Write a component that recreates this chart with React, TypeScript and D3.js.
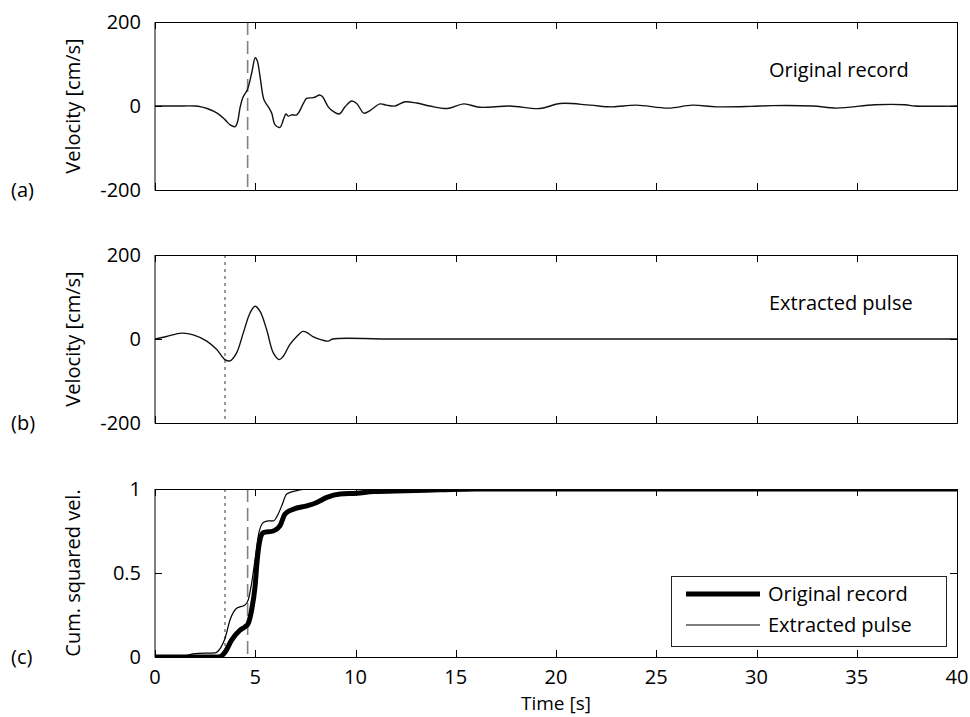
import React from 'react';
import * as d3 from 'd3';

// ---------- data ----------
const timeTicks = [0, 5, 10, 15, 20, 25, 30, 35, 40];
const velocityTicks = [-200, 0, 200];
const cumTicks = [0, 0.5, 1];

// Original record velocity [t (s), v (cm/s)]
const originalRecord: [number, number][] = [
  [0, 0], [1, 0], [2, 0], [2.3, -2], [2.6, -6], [3.1, -17], [3.5, -33], [3.75, -45], [4.0, -49],
  [4.12, -37], [4.25, -2], [4.4, 22], [4.6, 38], [4.82, 78], [5.0, 115], [5.1, 108], [5.24, 70],
  [5.44, 14], [5.65, -2], [5.82, -17], [5.99, -45], [6.23, -51], [6.4, -33], [6.53, -19], [6.65, -24],
  [6.82, -21], [7.07, -21], [7.4, 6], [7.56, 18], [7.9, 20], [8.23, 26], [8.36, 22], [8.64, -2],
  [8.89, -13], [9.19, -19], [9.48, -2], [9.81, 12], [10.06, 6], [10.42, -17], [10.72, -11], [11.22, 5],
  [11.55, 2], [11.97, 0], [12.47, 10], [13.05, 7], [13.7, 0], [14.6, -6], [15.4, 5], [16.2, -3],
  [17.7, 0], [19.2, -6], [20.2, 6], [21.7, 2], [22.8, -2], [24.0, 2], [25.6, -5], [26.8, 2],
  [28.0, -2], [29.7, -1], [30.8, 1], [32.8, 0], [34.0, -5], [35.9, 3], [37.4, 3], [37.9, 0], [40, 0],
];

// Extracted pulse velocity [t (s), v (cm/s)]
const extractedPulse: [number, number][] = [
  [0, 0], [0.58, 6], [1.33, 14], [1.91, 10], [2.58, -5], [3.08, -25], [3.49, -49], [3.74, -52],
  [4.07, -33], [4.4, 14], [4.74, 62], [4.99, 78], [5.24, 66], [5.57, 22], [5.9, -33], [6.2, -49],
  [6.4, -41], [6.73, -13], [7.07, 6], [7.37, 18], [7.56, 16], [7.9, 5], [8.31, -2], [8.64, -5],
  [8.86, 0], [12, 0], [40, 0],
];

// Cumulative squared velocity, original record
const cumOriginal: [number, number][] = [
  [0, 0], [3.2, 0], [3.5, 0.03], [3.82, 0.1], [4.24, 0.16], [4.5, 0.18], [4.65, 0.2], [4.82, 0.28],
  [4.99, 0.42], [5.1, 0.58], [5.24, 0.7], [5.4, 0.74], [5.9, 0.75], [6.23, 0.78], [6.48, 0.85],
  [6.9, 0.88], [7.57, 0.9], [8.07, 0.92], [8.57, 0.95], [9.23, 0.97], [10.06, 0.975], [10.9, 0.985],
  [12.5, 0.99], [14.2, 0.995], [16, 1], [40, 1],
];

// Cumulative squared velocity, extracted pulse
const cumPulse: [number, number][] = [
  [0, 0], [1.2, 0], [1.6, 0.01], [2.0, 0.02], [3.0, 0.025], [3.3, 0.06], [3.49, 0.11], [3.74, 0.22],
  [4.07, 0.29], [4.49, 0.31], [4.65, 0.34], [4.82, 0.44], [4.99, 0.58], [5.15, 0.72], [5.4, 0.8],
  [5.65, 0.81], [5.9, 0.81], [6.1, 0.84], [6.32, 0.9], [6.57, 0.97], [7.07, 0.99], [7.57, 1.0], [40, 1],
];

const dashedTime = 4.62; // dashed marker (original record)
const dottedTime = 3.49; // dotted marker (extracted pulse)

// ---------- layout ----------
const W = 970;
const H = 717;
const L = 155;
const R = 957;
const FONT = '"Open Sans", sans-serif';
const FS = 20;

const panels = [
  { top: 22, bottom: 190, letter: '(a)', ylabel: 'Velocity [cm/s]', domain: [-200, 200], ticks: velocityTicks },
  { top: 255, bottom: 423, letter: '(b)', ylabel: 'Velocity [cm/s]', domain: [-200, 200], ticks: velocityTicks },
  { top: 489, bottom: 657, letter: '(c)', ylabel: 'Cum. squared vel.', domain: [0, 1], ticks: cumTicks },
];

const x = d3.scaleLinear().domain([0, 40]).range([L, R]);

function Panel({ p, idx, children }: any) {
  const y = d3.scaleLinear().domain(p.domain).range([p.bottom, p.top]);
  const tl = 7;
  return (
    <g>
      <defs>
        <clipPath id={`clip${idx}`}>
          <rect x={L} y={p.top} width={R - L} height={p.bottom - p.top} />
        </clipPath>
      </defs>
      <g clipPath={`url(#clip${idx})`}>{children(y)}</g>
      {/* box */}
      <line x1={L} x2={L} y1={p.top} y2={p.bottom + 0.5} stroke="#000" strokeWidth={1} />
      <line x1={L} x2={R + 0.5} y1={p.top + 0.5} y2={p.top + 0.5} stroke="#000" strokeWidth={1} />
      <line x1={L} x2={R + 0.5} y1={p.bottom + 0.5} y2={p.bottom + 0.5} stroke="#000" strokeWidth={1} />
      <line x1={R + 0.5} x2={R + 0.5} y1={p.top} y2={p.bottom + 0.5} stroke="#000" strokeWidth={1} />
      {/* x ticks */}
      {timeTicks.map((t) => (
        <g key={'xt' + t}>
          <line x1={Math.round(x(t)) + 0.5} x2={Math.round(x(t)) + 0.5} y1={p.top} y2={p.top + tl} stroke="#000" />
          <line x1={Math.round(x(t)) + 0.5} x2={Math.round(x(t)) + 0.5} y1={p.bottom + 0.5} y2={p.bottom - tl} stroke="#000" />
        </g>
      ))}
      {/* y ticks */}
      {p.ticks.map((v: number) => (
        <g key={'yt' + v}>
          <line x1={L} x2={L + tl} y1={Math.round(y(v)) + 0.5} y2={Math.round(y(v)) + 0.5} stroke="#000" />
          <line x1={R} x2={R - tl} y1={Math.round(y(v)) + 0.5} y2={Math.round(y(v)) + 0.5} stroke="#000" />
          <text x={141} y={y(v) + 7} textAnchor="end" fontSize={FS} fontFamily={FONT} fill="#000">
            {String(v)}
          </text>
        </g>
      ))}
      <text x={11} y={p.bottom + 7} fontSize={FS} fontFamily={FONT} fill="#000">{p.letter}</text>
      <text
        transform={`translate(80,${(p.top + p.bottom) / 2}) rotate(-90)`}
        textAnchor="middle"
        fontSize={FS}
        fontFamily={FONT}
        fill="#000"
      >
        {p.ylabel}
      </text>
    </g>
  );
}

export default function App() {
  const vline = (t: number, dash: string, key: string, p: any) => (
    <line key={key} x1={x(t)} x2={x(t)} y1={p.top} y2={p.bottom} stroke="#808080" strokeWidth={1.6} strokeDasharray={dash} />
  );
  const wave = (y: any) =>
    d3.line<[number, number]>().x((d) => x(d[0])).y((d) => y(d[1])).curve(d3.curveCatmullRom.alpha(0.5));
  const mono = (y: any) =>
    d3.line<[number, number]>().x((d) => x(d[0])).y((d) => y(d[1])).curve(d3.curveMonotoneX);

  return (
    <svg width={W} height={H} style={{ position: 'absolute', left: 0, top: 0, background: '#fff' }}>
      <rect width={W} height={H} fill="#fff" />
      <Panel p={panels[0]} idx={0}>
        {(y: any) => (
          <g>
            {vline(dashedTime, '13,6', 'd0', panels[0])}
            <path d={wave(y)(originalRecord) || ''} fill="none" stroke="#111" strokeWidth={1.4} />
          </g>
        )}
      </Panel>
      <Panel p={panels[1]} idx={1}>
        {(y: any) => (
          <g>
            {vline(dottedTime, '3,4', 'd1', panels[1])}
            <path d={wave(y)(extractedPulse) || ''} fill="none" stroke="#111" strokeWidth={1.4} />
          </g>
        )}
      </Panel>
      <Panel p={panels[2]} idx={2}>
        {(y: any) => (
          <g>
            {vline(dottedTime, '3,4', 'd2', panels[2])}
            {vline(dashedTime, '13,6', 'd3', panels[2])}
            <path d={mono(y)(cumOriginal) || ''} fill="none" stroke="#000" strokeWidth={5} />
            <path d={mono(y)(cumPulse) || ''} fill="none" stroke="#000" strokeWidth={1.2} />
          </g>
        )}
      </Panel>

      <text x={769} y={77} fontSize={FS} fontFamily={FONT} fill="#000">Original record</text>
      <text x={769} y={310} fontSize={FS} fontFamily={FONT} fill="#000">Extracted pulse</text>

      {/* x tick labels */}
      {timeTicks.map((t) => (
        <text key={'xl' + t} x={x(t)} y={684} textAnchor="middle" fontSize={FS} fontFamily={FONT} fill="#000">
          {String(t)}
        </text>
      ))}
      <text x={(L + R) / 2} y={710} textAnchor="middle" fontSize={19} fontFamily={FONT} fill="#000">Time [s]</text>

      {/* legend */}
      <rect x={671.5} y={576.5} width={275} height={70} fill="#fff" stroke="#222" strokeWidth={1} />
      <line x1={686} x2={760} y1={594} y2={594} stroke="#000" strokeWidth={5} />
      <text x={768} y={601} fontSize={FS} fontFamily={FONT} fill="#000">Original record</text>
      <line x1={686} x2={760} y1={625} y2={625} stroke="#000" strokeWidth={1.2} />
      <text x={768} y={632} fontSize={FS} fontFamily={FONT} fill="#000">Extracted pulse</text>
    </svg>
  );
}
